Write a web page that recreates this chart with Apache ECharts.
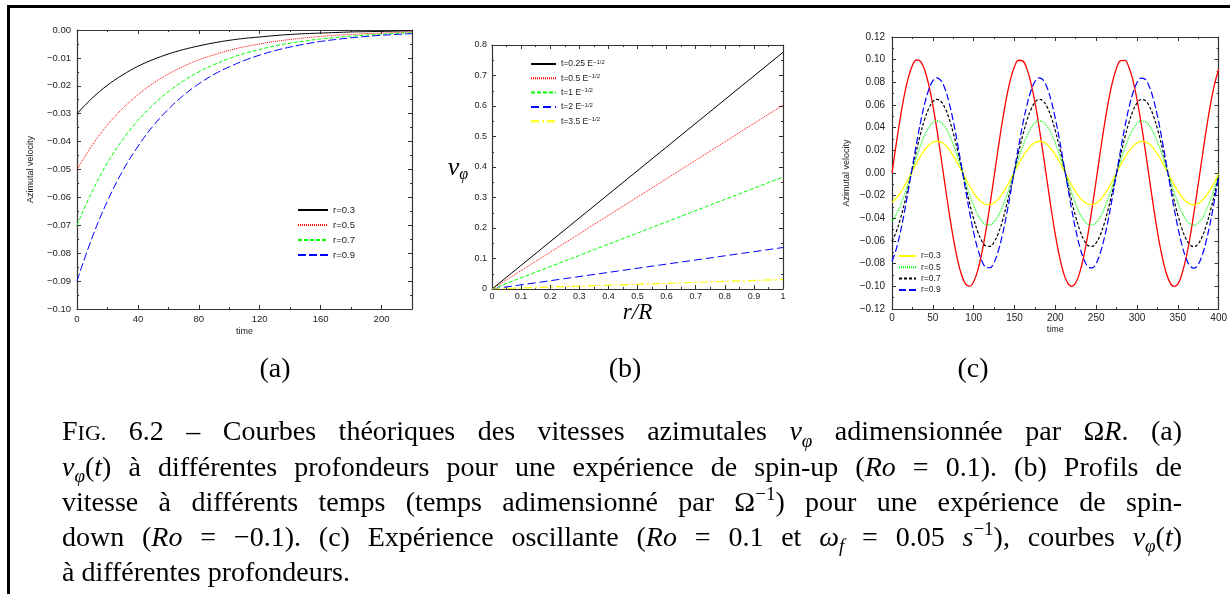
<!DOCTYPE html>
<html><head><meta charset="utf-8">
<script src="https://cdn.jsdelivr.net/npm/echarts@6/dist/echarts.min.js"></script>
<style>html,body{margin:0;padding:0;background:#fff}#c{width:1230px;height:594px}</style>
</head><body><div id="c"></div>
<script>
// ---------- data ----------
// (a) spin-up, azimuthal velocity vs time
const tA = [0,10,20,30,40,50,60,70,80,90,100,110,120,130,140,150,160,170,180,190,200,210,220];
const a03 = [-0.0300,-0.0244,-0.0198,-0.0161,-0.0130,-0.0106,-0.0086,-0.0070,-0.0057,-0.0046,-0.0037,-0.0030,-0.0025,-0.0020,-0.0016,-0.0013,-0.0011,-0.0009,-0.0007,-0.0006,-0.0005,-0.0004,-0.0003];
const a05 = [-0.0500,-0.0413,-0.0340,-0.0281,-0.0232,-0.0191,-0.0158,-0.0130,-0.0107,-0.0089,-0.0073,-0.0060,-0.0050,-0.0041,-0.0034,-0.0028,-0.0023,-0.0019,-0.0016,-0.0013,-0.0011,-0.0009,-0.0007];
const a07 = [-0.0700,-0.0578,-0.0476,-0.0393,-0.0324,-0.0268,-0.0221,-0.0182,-0.0150,-0.0124,-0.0102,-0.0084,-0.0070,-0.0057,-0.0047,-0.0039,-0.0032,-0.0027,-0.0022,-0.0018,-0.0015,-0.0012,-0.0010];
const a09 = [-0.0900,-0.0743,-0.0613,-0.0505,-0.0417,-0.0344,-0.0284,-0.0234,-0.0193,-0.0159,-0.0132,-0.0109,-0.0090,-0.0074,-0.0061,-0.0050,-0.0041,-0.0034,-0.0028,-0.0023,-0.0019,-0.0016,-0.0013];
const aNames = ['r=0.3','r=0.5','r=0.7','r=0.9'];

// (b) velocity profiles vs r/R
const bR = [0, 1];
const b025 = [0, 0.776];
const b05  = [0, 0.603];
const b1   = [0, 0.367];
const b2   = [0, 0.136];
const b35  = [0, 0.031];
const bNames = ['t=0.25 E','t=0.5 E','t=1 E','t=2 E','t=3.5 E'];

// (c) oscillating experiment
const tC = [0,5,10,15,20,25,30,35,40,45,50,55,60,65,70,75,80,85,90,95,100,105,110,115,120,125,130,135,140,145,150,155,160,165,170,175,180,185,190,195,200,205,210,215,220,225,230,235,240,245,250,255,260,265,270,275,280,285,290,295,300,305,310,315,320,325,330,335,340,345,350,355,360,365,370,375,380,385,390,395,400];
const cForce = [0,0.0247,0.0479,0.0682,0.0841,0.0949,0.0997,0.0984,0.0909,0.0778,0.0598,0.0382,0.0141,-0.0108,-0.0351,-0.0572,-0.0757,-0.0895,-0.0978,-0.0999,-0.0959,-0.0859,-0.0706,-0.0508,-0.0279,-0.0033,0.0215,0.0450,0.0657,0.0824,0.0938,0.0995,0.0989,0.0923,0.0798,0.0625,0.0412,0.0174,-0.0075,-0.0320,-0.0544,-0.0735,-0.0880,-0.0970,-0.1000,-0.0968,-0.0875,-0.0729,-0.0537,-0.0311,-0.0066,0.0183,0.0420,0.0632,0.0804,0.0926,0.0991,0.0994,0.0935,0.0818,0.0650,0.0442,0.0207,-0.0042,-0.0288,-0.0516,-0.0712,-0.0863,-0.0961,-0.1000,-0.0980,-0.0891,-0.0751,-0.0564,-0.0338,-0.0099,0.0150,0.0390,0.0606,0.0784,0.0913];
const c03 = [-0.0259,-0.0225,-0.0177,-0.0118,-0.0051,0.0018,0.0087,0.0150,0.0204,0.0245,0.0271,0.0280,0.0272,0.0247,0.0206,0.0153,0.0090,0.0021,-0.0048,-0.0115,-0.0175,-0.0223,-0.0258,-0.0277,-0.0279,-0.0263,-0.0231,-0.0184,-0.0126,-0.0061,0.0009,0.0078,0.0142,0.0197,0.0240,0.0268,0.0280,0.0274,0.0251,0.0212,0.0160,0.0099,0.0031,-0.0039,-0.0107,-0.0167,-0.0218,-0.0254,-0.0275,-0.0279,-0.0266,-0.0236,-0.0191,-0.0135,-0.0070,0.0000,0.0069,0.0134,0.0191,0.0235,0.0266,0.0279,0.0276,0.0255,0.0218,0.0168,0.0107,0.0040,-0.0030,-0.0098,-0.0160,-0.0212,-0.0250,-0.0274,-0.0280,-0.0269,-0.0241,-0.0198,-0.0143,-0.0079,-0.0010];
const c05 = [-0.0426,-0.0370,-0.0291,-0.0194,-0.0085,0.0030,0.0143,0.0246,0.0335,0.0402,0.0445,0.0460,0.0446,0.0405,0.0338,0.0251,0.0148,0.0035,-0.0079,-0.0189,-0.0287,-0.0367,-0.0424,-0.0455,-0.0458,-0.0432,-0.0379,-0.0303,-0.0208,-0.0100,0.0015,0.0128,0.0233,0.0324,0.0395,0.0441,0.0460,0.0450,0.0412,0.0349,0.0263,0.0162,0.0050,-0.0064,-0.0175,-0.0275,-0.0357,-0.0418,-0.0453,-0.0459,-0.0437,-0.0387,-0.0314,-0.0221,-0.0114,-0.0001,0.0113,0.0220,0.0313,0.0387,0.0436,0.0459,0.0453,0.0419,0.0358,0.0276,0.0176,0.0066,-0.0049,-0.0161,-0.0262,-0.0348,-0.0411,-0.0450,-0.0460,-0.0441,-0.0396,-0.0325,-0.0234,-0.0129,-0.0016];
const c07 = [-0.0602,-0.0523,-0.0411,-0.0274,-0.0120,0.0042,0.0201,0.0348,0.0473,0.0569,0.0629,0.0650,0.0631,0.0572,0.0478,0.0354,0.0209,0.0050,-0.0112,-0.0267,-0.0405,-0.0519,-0.0600,-0.0643,-0.0647,-0.0610,-0.0536,-0.0428,-0.0293,-0.0141,0.0021,0.0181,0.0330,0.0458,0.0558,0.0623,0.0650,0.0636,0.0582,0.0493,0.0372,0.0229,0.0071,-0.0091,-0.0247,-0.0388,-0.0505,-0.0591,-0.0640,-0.0648,-0.0617,-0.0547,-0.0444,-0.0312,-0.0162,-0.0001,0.0160,0.0311,0.0442,0.0547,0.0617,0.0648,0.0640,0.0591,0.0506,0.0390,0.0249,0.0093,-0.0069,-0.0227,-0.0371,-0.0491,-0.0581,-0.0635,-0.0650,-0.0624,-0.0559,-0.0459,-0.0331,-0.0183,-0.0022];
const c09 = [-0.0778,-0.0676,-0.0531,-0.0354,-0.0154,0.0055,0.0260,0.0450,0.0611,0.0735,0.0813,0.0840,0.0815,0.0740,0.0618,0.0458,0.0270,0.0064,-0.0145,-0.0345,-0.0524,-0.0670,-0.0775,-0.0831,-0.0836,-0.0788,-0.0692,-0.0553,-0.0379,-0.0182,0.0027,0.0234,0.0426,0.0592,0.0721,0.0805,0.0839,0.0821,0.0752,0.0636,0.0481,0.0296,0.0092,-0.0117,-0.0320,-0.0502,-0.0653,-0.0763,-0.0826,-0.0838,-0.0797,-0.0707,-0.0573,-0.0404,-0.0209,-0.0001,0.0207,0.0402,0.0572,0.0706,0.0797,0.0838,0.0827,0.0764,0.0654,0.0504,0.0322,0.0120,-0.0090,-0.0294,-0.0479,-0.0635,-0.0751,-0.0821,-0.0839,-0.0806,-0.0722,-0.0593,-0.0428,-0.0236,-0.0029];
const cNames = ['r=0.3','r=0.5','r=0.7','r=0.9'];

// ---------- chart ----------
const SANS = '"Liberation Sans", Arial, sans-serif';
const SERIF = '"Liberation Serif", "Times New Roman", serif';
const AX = '#333';
const zip = (xs, ys) => xs.map((x, i) => [x, ys[i]]);
const minusFmt = d => v => (v < -1e-9 ? '\u2212' : '') + Math.abs(v).toFixed(d);

const grids = [
  {left: 77, top: 30, width: 335, height: 279},
  {left: 492, top: 45, width: 291, height: 244},
  {left: 892, top: 37, width: 328, height: 272}
];

const xAxes = [], yAxes = [];
function axes(gi, c) {
  const line = {show: true, onZero: false, lineStyle: {color: AX, width: 1.2}};
  const tick = {show: true, inside: true, length: 4, lineStyle: {color: AX}};
  const minor = {show: true, splitNumber: 2, length: 2, lineStyle: {color: AX}};
  const lab = {color: '#222', fontFamily: SANS, fontSize: c.fs};
  xAxes.push({gridIndex: gi, type: 'value', position: 'bottom', min: c.xmin, max: c.xmax, interval: c.xint,
    axisLine: line, axisTick: tick, minorTick: minor, splitLine: {show: false},
    axisLabel: Object.assign({margin: c.xm, showMaxLabel: c.showMax !== false, formatter: c.xfmt}, lab),
    name: c.xname || '', nameLocation: 'middle', nameGap: c.xgap || 0, nameTextStyle: c.xnameStyle || {color: '#222', fontFamily: SANS, fontSize: 9}});
  xAxes.push({gridIndex: gi, type: 'value', position: 'top', min: c.xmin, max: c.xmax, interval: c.xint,
    axisLine: line, axisTick: tick, minorTick: minor, splitLine: {show: false}, axisLabel: {show: false}});
  yAxes.push({gridIndex: gi, type: 'value', position: 'left', min: c.ymin, max: c.ymax, interval: c.yint,
    axisLine: line, axisTick: tick, minorTick: minor, splitLine: {show: false},
    axisLabel: Object.assign({margin: c.ym, formatter: c.yfmt}, lab),
    name: c.yname || '', nameLocation: 'middle', nameRotate: 90, nameGap: c.ygap || 0,
    nameTextStyle: {color: '#222', fontFamily: SANS, fontSize: 9}});
  yAxes.push({gridIndex: gi, type: 'value', position: 'right', min: c.ymin, max: c.ymax, interval: c.yint,
    axisLine: line, axisTick: tick, minorTick: minor, splitLine: {show: false}, axisLabel: {show: false}});
}
axes(0, {xmin: 0, xmax: 220, xint: 40, ymin: -0.1, ymax: 0, yint: 0.01, fs: 9.5, xm: 5, ym: 6, showMax: false,
  yfmt: minusFmt(2), xname: 'time', xgap: 18, yname: 'Azimutal velocity', ygap: 42});
axes(1, {xmin: 0, xmax: 1, xint: 0.1, ymin: 0, ymax: 0.8, yint: 0.1, fs: 9, xm: 3, ym: 5,
  xname: 'r/R', xgap: 5, xnameStyle: {color: '#000', fontFamily: SERIF, fontStyle: 'italic', fontSize: 23}});
axes(2, {xmin: 0, xmax: 400, xint: 50, ymin: -0.12, ymax: 0.12, yint: 0.02, fs: 10, xm: 4, ym: 7,
  yfmt: minusFmt(2), xname: 'time', xgap: 16, yname: 'Azimutal velocity', ygap: 41});

function ser(name, gi, data, color, type, width) {
  return {name, type: 'line', xAxisIndex: 2 * gi, yAxisIndex: 2 * gi, data, symbol: 'none', showSymbol: false,
    smooth: data.length > 2 ? 0.4 : false, lineStyle: {color, type, width: width || 1}, itemStyle: {color},
    emphasis: {disabled: true}, silent: true, z: 3};
}
const series = [
  ser('a:' + aNames[0], 0, zip(tA, a03), '#000000', 'solid', 1),
  ser('a:' + aNames[1], 0, zip(tA, a05), '#ff0000', [1, 1], 1),
  ser('a:' + aNames[2], 0, zip(tA, a07), '#00ff00', [4, 2], 1),
  ser('a:' + aNames[3], 0, zip(tA, a09), '#0000ff', [8, 3], 1),
  ser('b:' + bNames[0], 1, zip(bR, b025), '#000000', 'solid', 1),
  ser('b:' + bNames[1], 1, zip(bR, b05), '#ff0000', [1, 1], 1),
  ser('b:' + bNames[2], 1, zip(bR, b1), '#00ff00', [4, 2], 1),
  ser('b:' + bNames[3], 1, zip(bR, b2), '#0000ff', [8, 4], 1),
  ser('b:' + bNames[4], 1, zip(bR, b35), '#ffff00', [8, 3, 2, 3], 1.2),
  ser('forcing', 2, zip(tC, cForce), '#ff0000', 'solid', 1.3),
  ser('c:' + cNames[0], 2, zip(tC, c03), '#ffff00', 'solid', 1.3),
  ser('c:' + cNames[1], 2, zip(tC, c05), '#00ff00', [1, 1], 1.2),
  ser('c:' + cNames[2], 2, zip(tC, c07), '#000000', [3, 2], 1.2),
  ser('c:' + cNames[3], 2, zip(tC, c09), '#0000ff', [7, 3], 1.2)
];

const legBase = {orient: 'vertical', padding: 0, selectedMode: false, itemStyle: {opacity: 0}};
const legends = [
  Object.assign({}, legBase, {left: 297, top: 204, itemWidth: 30, itemHeight: 12, itemGap: 3,
    data: aNames.map(n => 'a:' + n), formatter: n => n.slice(2),
    textStyle: {fontFamily: SANS, fontSize: 9.5, color: '#222', lineHeight: 12}}),
  Object.assign({}, legBase, {left: 530, top: 59, itemWidth: 25, itemHeight: 10, itemGap: 4.3,
    data: bNames.map(n => 'b:' + n), formatter: n => n.slice(2) + '{sup|\u22121/2}',
    textStyle: {fontFamily: SANS, fontSize: 8.5, color: '#222', lineHeight: 10,
      rich: {sup: {fontFamily: SANS, fontSize: 6, color: '#222', lineHeight: 4, verticalAlign: 'top'}}}}),
  Object.assign({}, legBase, {left: 898, top: 251, itemWidth: 17, itemHeight: 10, itemGap: 1.3,
    data: cNames.map(n => 'c:' + n), formatter: n => n.slice(2),
    textStyle: {fontFamily: SANS, fontSize: 8.5, color: '#222', lineHeight: 10}})
];

// ---------- caption (justified text, laid out word by word) ----------
const FS = 28, LH = 36;
const RICH = {
  n:   {fontFamily: SERIF, fontSize: FS, lineHeight: LH, fill: '#000'},
  i:   {fontFamily: SERIF, fontSize: FS, fontStyle: 'italic', lineHeight: LH, fill: '#000'},
  sc:  {fontFamily: SERIF, fontSize: 22, lineHeight: 24, padding: [3, 0, 0, 0], fill: '#000'},
  sub: {fontFamily: SERIF, fontSize: 19, fontStyle: 'italic', lineHeight: 21, verticalAlign: 'bottom', fill: '#000'},
  sup: {fontFamily: SERIF, fontSize: 19, lineHeight: 23, verticalAlign: 'top', fill: '#000'}
};
const mctx = document.createElement('canvas').getContext('2d');
function partWidth(p) {
  const st = RICH[p[0]];
  mctx.font = (st.fontStyle === 'italic' ? 'italic ' : '') + st.fontSize + 'px ' + SERIF;
  return mctx.measureText(p[1]).width;
}
const W = s => typeof s === 'string' ? [['n', s]] : s;
const vphi = [['i', 'v'], ['sub', '\u03c6']];
const capLines = [
  [[['n', 'F'], ['sc', 'IG.']], '6.2', '\u2013', 'Courbes', 'théoriques', 'des', 'vitesses', 'azimutales', vphi,
   'adimensionnée', 'par', [['n', '\u03a9'], ['i', 'R'], ['n', '.']], '(a)'],
  [vphi.concat([['n', '('], ['i', 't'], ['n', ')']]), 'à', 'différentes', 'profondeurs', 'pour', 'une', 'expérience', 'de',
   'spin-up', [['n', '('], ['i', 'Ro']], '=', '0.1).', '(b)', 'Profils', 'de'],
  ['vitesse', 'à', 'différents', 'temps', '(temps', 'adimensionné', 'par', [['n', '\u03a9'], ['sup', '\u22121'], ['n', ')']],
   'pour', 'une', 'expérience', 'de', 'spin-'],
  ['down', [['n', '('], ['i', 'Ro']], '=', '\u22120.1).', '(c)', 'Expérience', 'oscillante', [['n', '('], ['i', 'Ro']], '=', '0.1',
   'et', [['i', '\u03c9'], ['sub', 'f']], '=', '0.05', [['i', 's'], ['sup', '\u22121'], ['n', '),']], 'courbes',
   vphi.concat([['n', '('], ['i', 't'], ['n', ')']])],
  ['à', 'différentes', 'profondeurs.']
];
const capLeft = 62, capRight = 1182, capTop = 433, capStep = 35.2;
const graphics = [];
capLines.forEach((line, li) => {
  const words = line.map(W);
  const widths = words.map(w => w.reduce((s, p) => s + partWidth(p), 0));
  const total = widths.reduce((a, b) => a + b, 0);
  const justify = li < capLines.length - 1;
  mctx.font = FS + 'px ' + SERIF;
  const gap = justify ? (capRight - capLeft - total) / (words.length - 1) : mctx.measureText(' ').width;
  let x = capLeft;
  words.forEach((w, wi) => {
    graphics.push({type: 'text', x, y: capTop + li * capStep, silent: true,
      style: {text: w.map(p => '{' + p[0] + '|' + p[1] + '}').join(''), rich: RICH,
        align: 'left', verticalAlign: 'middle', fill: '#000'}});
    x += widths[wi] + gap;
  });
});
// sub-figure labels
[['(a)', 275], ['(b)', 625], ['(c)', 973]].forEach(([t, x]) => graphics.push({type: 'text', x, y: 370, silent: true,
  style: {text: t, font: FS + 'px ' + SERIF, fill: '#000', align: 'center', verticalAlign: 'middle'}}));
// v_phi axis title of (b)
graphics.push({type: 'text', x: 458, y: 168, silent: true,
  style: {text: '{v|v}{s|\u03c6}', align: 'center', verticalAlign: 'middle',
    rich: {v: {fontFamily: SERIF, fontStyle: 'italic', fontSize: 26, lineHeight: 30, fill: '#000'},
           s: {fontFamily: SERIF, fontStyle: 'italic', fontSize: 16, lineHeight: 16, verticalAlign: 'bottom', fill: '#000'}}}});
// page frame (top and left rules)
graphics.push({type: 'rect', shape: {x: 7, y: 5, width: 1223, height: 3}, style: {fill: '#000'}, silent: true});
graphics.push({type: 'rect', shape: {x: 7, y: 5, width: 3, height: 589}, style: {fill: '#000'}, silent: true});

const chart = echarts.init(document.getElementById('c'), null, {renderer: 'canvas'});
chart.setOption({
  animation: false,
  backgroundColor: '#fff',
  grid: grids.map(g => Object.assign({show: false, containLabel: false}, g)),
  xAxis: xAxes, yAxis: yAxes,
  legend: legends,
  series,
  graphic: graphics
});
</script></body></html>
